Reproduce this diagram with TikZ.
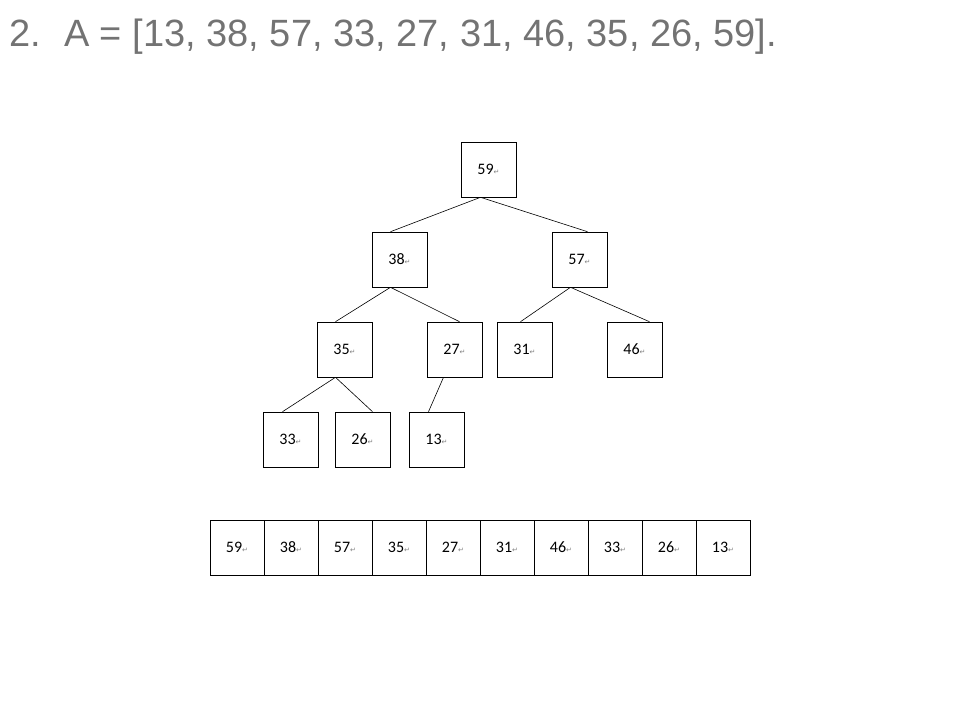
\documentclass[tikz,border=0pt]{standalone}
\usepackage{fontspec}
\setmainfont{Carlito}
\newfontfamily\titlefont{Liberation Sans}
\newfontfamily\djv{DejaVu Sans}
\begin{document}
\begin{tikzpicture}[x=1pt,y=-1pt,
  bx/.style={draw,line width=0.6pt,minimum width=55pt,minimum height=55pt,inner sep=0pt,font=\fontsize{16}{18}\selectfont},
  ax/.style={bx,minimum width=54pt},
  ed/.style={line width=0.6pt}]
\useasboundingbox (0,0) rectangle (960,720);
\newcommand{\rv}[1]{#1{\color{gray}\djv\fontsize{7}{8}\selectfont ↵}}
\node[anchor=base west,text=gray!90!black,font=\titlefont\fontsize{38}{44}\selectfont] (title) at (6,46) {2.\hspace{0.6em}A = [13, 38, 57, 33, 27, 31, 46, 35, 26, 59].};
\node[bx] (n59) at (488.5,169.5) {\rv{59}};
\node[bx] (n38) at (399.5,259.5) {\rv{38}};
\node[bx] (n57) at (579.5,259.5) {\rv{57}};
\node[bx] (n35) at (344.5,349.5) {\rv{35}};
\node[bx] (n27) at (454.5,349.5) {\rv{27}};
\node[bx] (n31) at (524.5,349.5) {\rv{31}};
\node[bx] (n46) at (634.5,349.5) {\rv{46}};
\node[bx] (n33) at (290.5,439.5) {\rv{33}};
\node[bx] (n26) at (362.5,439.5) {\rv{26}};
\node[bx] (n13) at (436.5,439.5) {\rv{13}};
\draw[ed] ([xshift=-8pt]n59.south) -- ([xshift=-9pt]n38.north);
\draw[ed] ([xshift=-8pt]n59.south) -- ([xshift=8pt]n57.north);
\draw[ed] ([xshift=-9pt]n38.south) -- ([xshift=-9pt]n35.north);
\draw[ed] ([xshift=-9pt]n38.south) -- ([xshift=5pt]n27.north);
\draw[ed] ([xshift=-9pt]n57.south) -- ([xshift=-4pt]n31.north);
\draw[ed] ([xshift=-9pt]n57.south) -- ([xshift=15pt]n46.north);
\draw[ed] ([xshift=-9pt]n35.south) -- ([xshift=-8pt]n33.north);
\draw[ed] ([xshift=-9pt]n35.south) -- ([xshift=10pt]n26.north);
\draw[ed] ([xshift=-11pt]n27.south) -- ([xshift=-8pt]n13.north);
\foreach \v [count=\i from 0] in {59,38,57,35,27,31,46,33,26,13}
  \node[ax] (a\i) at (237+54*\i,547.5) {\rv{\v}};
\end{tikzpicture}
\end{document}
